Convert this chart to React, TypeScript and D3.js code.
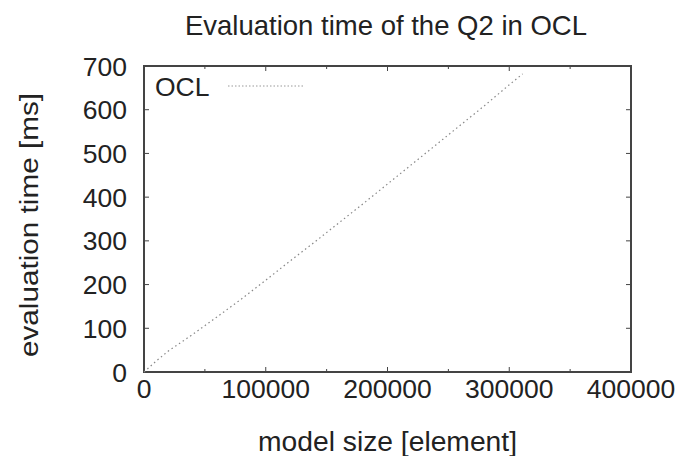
import * as d3 from "d3"

const modelSize = [0, 10000, 20000, 40000, 60000, 80000, 100000, 120000, 140000, 160000, 180000, 200000, 220000, 240000, 260000, 280000, 300000, 311000]
const evalTime = [0, 25, 48, 86, 126, 167, 210, 254, 297, 341, 385, 430, 475, 520, 565, 610, 657, 682]
const xTicks = [0, 100000, 200000, 300000, 400000]
const xMinor = [50000, 150000, 250000, 350000]
const yTicks = [0, 100, 200, 300, 400, 500, 600, 700]

const W = 684
const H = 456
const MARGIN = { left: 144, top: 66, right: 53, bottom: 84 }
const FONT = "'Liberation Sans', Arial, sans-serif"

export default function App() {
  const x = d3.scaleLinear().domain([0, 400000]).range([MARGIN.left, W - MARGIN.right])
  const y = d3.scaleLinear().domain([0, 700]).range([H - MARGIN.bottom, MARGIN.top])
  const line = d3.line<number>()
    .x((_, i) => x(modelSize[i]))
    .y((d) => y(d))
  const x0 = x.range()[0], x1 = x.range()[1]
  const y0 = y.range()[0], y1 = y.range()[1]
  const tk = 5
  return (
    <svg width={W} height={H} style={{ position: 'absolute', left: 0, top: 0, background: '#fff' }} fontFamily={FONT}>
      <text x={386} y={35} textAnchor="middle" fontSize={27.5} fill="#222">Evaluation time of the Q2 in OCL</text>
      {/* ticks */}
      {yTicks.map((t) => (
        <g key={'y' + t}>
          <line x1={x0} x2={x0 + tk} y1={y(t)} y2={y(t)} stroke="#444" strokeWidth={1} />
          <line x1={x1} x2={x1 - tk} y1={y(t)} y2={y(t)} stroke="#444" strokeWidth={1} />
          <text x={x0 - 17} y={y(t)} dy="0.36em" textAnchor="end" fontSize={26.5} fill="#222">{t}</text>
        </g>
      ))}
      {xTicks.concat(xMinor).map((t) => (
        <g key={'x' + t}>
          <line x1={x(t)} x2={x(t)} y1={y0} y2={y0 - (xMinor.includes(t) ? 3 : tk)} stroke="#444" strokeWidth={1} />
          <line x1={x(t)} x2={x(t)} y1={y1} y2={y1 + (xMinor.includes(t) ? 3 : tk)} stroke="#444" strokeWidth={1} />
        </g>
      ))}
      {xTicks.map((t) => (
        <text key={'xl' + t} x={x(t)} y={y0 + 26} textAnchor="middle" fontSize={26.5} fill="#222">{t}</text>
      ))}
      <rect x={x0} y={y1} width={x1 - x0} height={y0 - y1} fill="none" stroke="#444" strokeWidth={2} />
      <path d={line(evalTime) || ''} fill="none" stroke="#888" strokeWidth={1.2} strokeDasharray="1.5,3" />
      {/* legend */}
      <text x={155} y={96} fontSize={26.5} fill="#222">OCL</text>
      <line x1={228} x2={303} y1={86} y2={86} stroke="#999" strokeWidth={1} strokeDasharray="1.5,2" />
      <text x={387.5} y={451} textAnchor="middle" fontSize={27} textLength={259} lengthAdjust="spacingAndGlyphs" fill="#222">model size [element]</text>
      <text transform={`translate(38,225) rotate(-90)`} textAnchor="middle" fontSize={26.5} textLength={264} lengthAdjust="spacingAndGlyphs" fill="#222">evaluation time [ms]</text>
    </svg>
  )
}
